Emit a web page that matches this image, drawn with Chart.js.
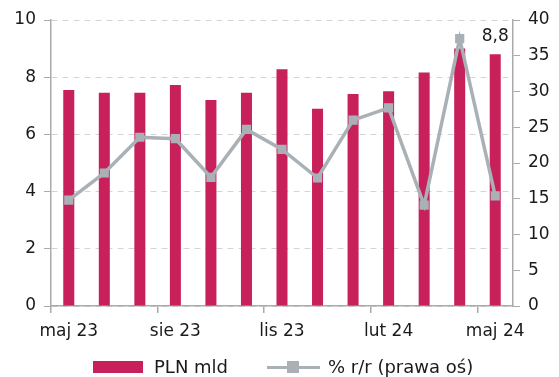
<!DOCTYPE html>
<html>
<head>
<meta charset="utf-8">
<script src="https://cdn.jsdelivr.net/npm/chart.js@4/dist/chart.umd.min.js"></script>
<style>
  html, body { margin: 0; padding: 0; background: #fff; }
  #wrap { position: relative; width: 559px; height: 377px; }
  #legend {
    position: absolute; left: 0; top: 356px; width: 559px; height: 22px;
    font: 18px "DejaVu Sans", sans-serif; color: #1a1a1a; white-space: nowrap;
  }
  #legend span { position: absolute; top: 0; line-height: 22px; }
  .swatch { left: 93px; width: 50px; height: 12px; margin-top: 5px; background: #C8205A; }
  .lineKey { left: 267px; width: 53px; height: 22px; }
  .lineKey:before { content: ""; position: absolute; left: 0; right: 0; top: 10px; height: 3px; background: #A9B1B7; }
  .lineKey:after { content: ""; position: absolute; left: 20px; top: 5px; width: 12px; height: 12px; background: #A9B1B7; }
</style>
</head>
<body>
<div id="wrap">
  <canvas id="myChart" width="559" height="377"></canvas>
  <div id="legend">
    <span class="swatch"></span><span style="left:154px">PLN mld</span>
    <span class="lineKey"></span><span style="left:328px">% r/r (prawa oś)</span>
  </div>
</div>
<script>
"use strict";
var months = ["maj 23", "cze 23", "lip 23", "sie 23", "wrz 23", "paź 23", "lis 23",
              "gru 23", "sty 24", "lut 24", "mar 24", "kwi 24", "maj 24"];
var plnMld = [7.55, 7.46, 7.46, 7.73, 7.2, 7.46, 8.28, 6.9, 7.41, 7.51, 8.16, 9.0, 8.8];
var yoyPct = [14.8, 18.6, 23.6, 23.4, 18.0, 24.7, 21.9, 17.9, 26.0, 27.7, 14.1, 37.4, 15.4];
var leftTicks = [0, 2, 4, 6, 8, 10];
var rightTicks = [0, 5, 10, 15, 20, 25, 30, 35, 40];

var axisGray = "#aaaaaa";
var tickFont = { family: "DejaVu Sans", size: 17 };

// value label above the last bar
var lastBarLabel = {
    id: "lastBarLabel",
    afterDatasetsDraw: function (chart) {
        var i = plnMld.length - 1;
        var x = chart.scales.x.getPixelForValue(i);
        var y = chart.scales.y.getPixelForValue(plnMld[i]);
        var c = chart.ctx;
        c.save();
        c.font = "17px 'DejaVu Sans'";
        c.fillStyle = "#1a1a1a";
        c.textAlign = "center";
        c.textBaseline = "bottom";
        c.fillText(plnMld[i].toFixed(1).replace(".", ","), x, y - 9);
        c.restore();
    }
};

var ctx = document.getElementById("myChart");
var myChart = new Chart(ctx, {
    data: {
        labels: months,
        datasets: [{
            type: "line",
            label: "% r/r (prawa oś)",
            data: yoyPct,
            yAxisID: "y1",
            borderColor: "#A9B1B7",
            backgroundColor: "#A9B1B7",
            borderWidth: 3.5,
            pointStyle: "rect",
            pointRadius: 6.5,
            pointBorderWidth: 0,
            tension: 0,
            order: 0
        }, {
            type: "bar",
            label: "PLN mld",
            data: plnMld,
            yAxisID: "y",
            backgroundColor: "#C8205A",
            barPercentage: 0.31,
            categoryPercentage: 1,
            order: 1
        }]
    },
    options: {
        responsive: false,
        animation: false,
        layout: { padding: { top: 20, left: 0, right: 0, bottom: 0 } },
        plugins: { legend: { display: false }, tooltip: { enabled: false } },
        scales: {
            x: {
                offset: true,
                grid: {
                    offset: true, drawOnChartArea: false, tickLength: 7, lineWidth: 1.5,
                    tickColor: function (c) { return c.index % 3 === 0 ? axisGray : "rgba(0,0,0,0)"; }
                },
                border: { color: axisGray, width: 1.5 },
                ticks: {
                    autoSkip: false, maxRotation: 0, padding: 8,
                    color: "#1a1a1a", font: tickFont,
                    callback: function (v, i) { return i % 3 === 0 ? months[i] : ""; }
                },
                afterFit: function (s) { s.height = 71; }
            },
            y: {
                position: "left",
                min: 0, max: 10,
                afterBuildTicks: function (s) { s.ticks = leftTicks.map(function (v) { return { value: v }; }); },
                grid: { color: "#d4d4d4", lineWidth: 1, tickLength: 7, tickColor: axisGray, tickBorderDash: [] },
                border: { color: axisGray, width: 1.5, dash: [6, 5] },
                ticks: { color: "#1a1a1a", font: tickFont, padding: 8 },
                afterFit: function (s) { s.width = 51; }
            },
            y1: {
                position: "right",
                min: 0, max: 40,
                afterBuildTicks: function (s) { s.ticks = rightTicks.map(function (v) { return { value: v }; }); },
                grid: { drawOnChartArea: false, tickLength: 7, color: axisGray },
                border: { color: axisGray, width: 1.5 },
                ticks: { color: "#1a1a1a", font: tickFont, padding: 8 },
                afterFit: function (s) { s.width = 46; }
            }
        }
    },
    plugins: [lastBarLabel]
});
</script>
</body>
</html>
